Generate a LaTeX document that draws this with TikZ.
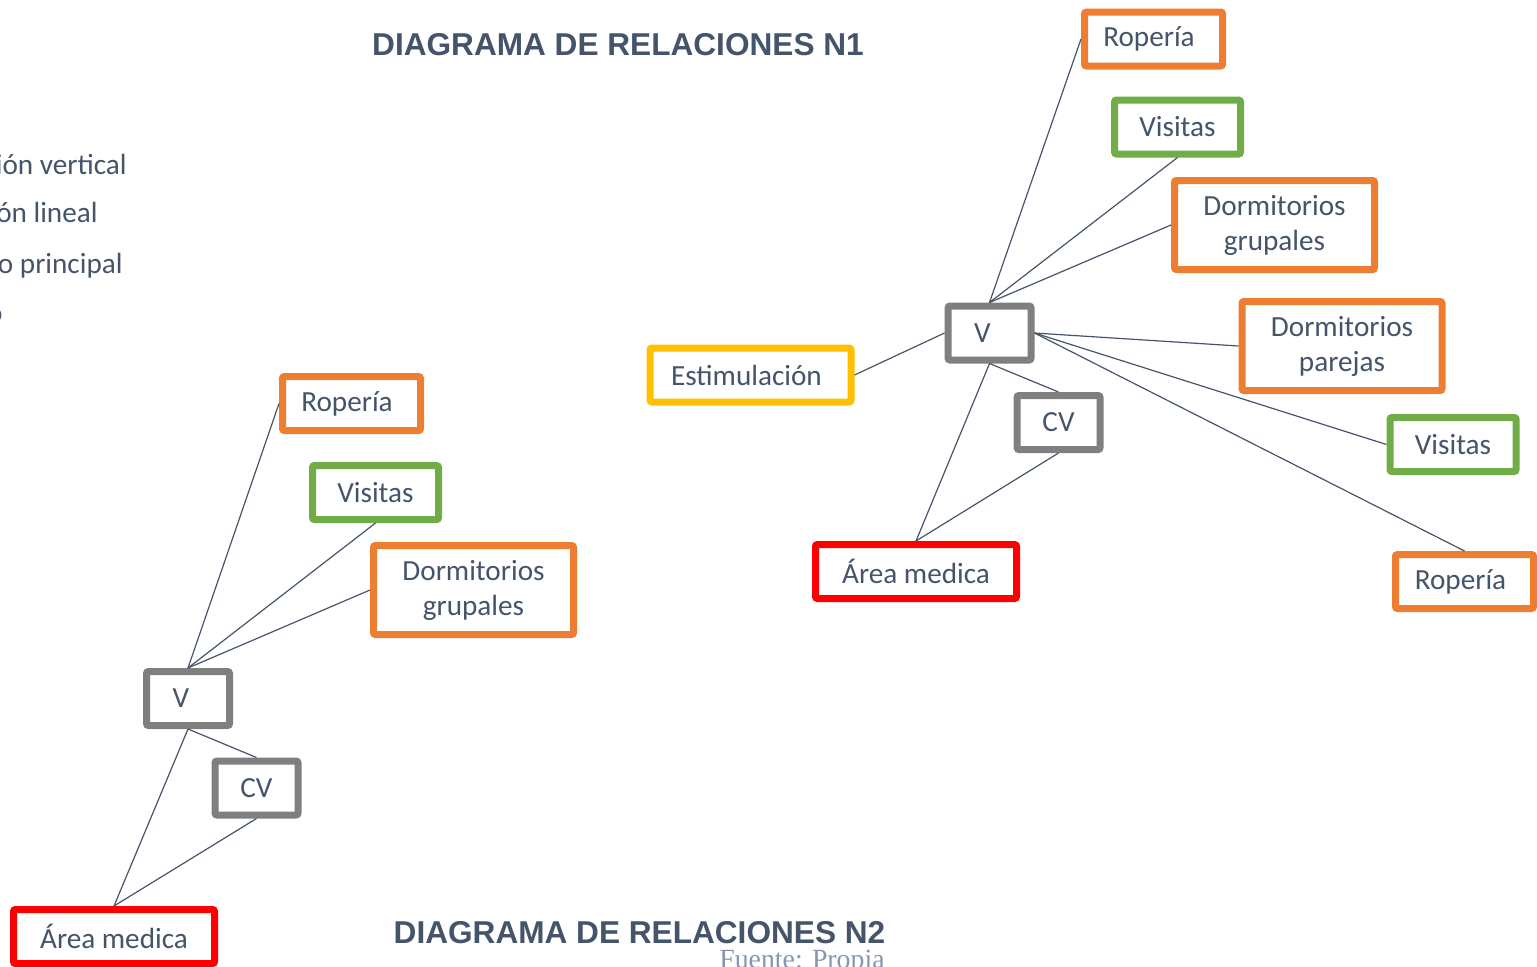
\documentclass[tikz,border=0pt]{standalone}
\usepackage{fontspec}
\setmainfont{Carlito}
\newfontfamily\titlefont{Liberation Sans}
\newfontfamily\sourcefont{Liberation Serif}
\definecolor{txt}{HTML}{44546A}
\definecolor{orangeb}{HTML}{ED7D31}
\definecolor{greenb}{HTML}{70AD47}
\definecolor{grayb}{HTML}{7F7F7F}
\definecolor{yellowb}{HTML}{FFC000}
\definecolor{redb}{HTML}{FF0000}
\definecolor{src}{HTML}{8497B0}
\begin{document}
\begin{tikzpicture}[x=0.5pt,y=-0.5pt,
  box/.style={draw, line width=3.5pt, rounded corners=1pt, fill=white, inner sep=0pt,
    text=txt, font=\fontsize{14.6}{17.5}\selectfont, align=center, minimum height=27pt},
  ob/.style={box, draw=orangeb},
  gb/.style={box, draw=greenb},
  grb/.style={box, draw=grayb},
  yb/.style={box, draw=yellowb},
  rb/.style={box, draw=redb},
  small/.style={minimum width=69pt},
  vsmall/.style={minimum width=63pt},
  tiny/.style={minimum width=41.5pt},
  wide/.style={minimum width=100.5pt},
  twoline/.style={minimum width=100pt, minimum height=44.5pt},
  link/.style={draw=txt, line width=0.6pt},
  sidetext/.style={text=txt, font=\fontsize{14.6}{17.5}\selectfont, inner sep=0pt, anchor=base east},
  title/.style={text=txt, font=\titlefont\bfseries\fontsize{15.8}{19}\selectfont, inner sep=0pt, anchor=base}
]
\clip (0,0) rectangle (1537,966);
\useasboundingbox (0,0) rectangle (1537,966);

% titles
\node[title] (t1) at (618,55) {DIAGRAMA DE RELACIONES N1};
\node[title] (t2) at (639.5,943) {DIAGRAMA DE RELACIONES N2};
\node[text=src, font=\sourcefont\fontsize{13.9}{16}\selectfont, inner sep=0pt, anchor=base east] (src) at (885,968) {Fuente: Propia};

% cut-off side text
\node[sidetext] (s1) at (127,174) {ión vertical};
\node[sidetext] (s2) at (98,222) {ón lineal};
\node[sidetext] (s3) at (123,273) {o principal};
\node[sidetext] (s4) at (3,322) {o};

% ---------- diagram 1 (top right) ----------
\node[ob, small] (rop1) at (1153.5,39) {Ropería\hspace{4.5pt}};
\node[gb, vsmall] (vis1) at (1177.5,127) {Visitas};
\node[ob, twoline] (dg1) at (1274.5,225) {Dormitorios\\grupales};
\node[grb, tiny] (v1) at (989.5,333) {V\hspace{7pt}};
\node[yb, wide] (est) at (750.5,375) {Estimulación\hspace{4pt}};
\node[grb, tiny] (cv1) at (1058.5,422.5) {CV};
\node[ob, twoline] (dp) at (1342,346) {Dormitorios\\parejas};
\node[gb, vsmall] (vis2) at (1453,444.5) {Visitas};
\node[rb, wide] (am1) at (916,571.5) {Área medica};
\node[ob, small] (rop2) at (1464.5,581.5) {Ropería\hspace{4pt}};

\draw[link] (v1.north) -- (rop1.west);
\draw[link] (v1.north) -- (vis1.south);
\draw[link] (v1.north) -- (dg1.west);
\draw[link] (v1.west) -- (est.east);
\draw[link] (v1.east) -- (dp.west);
\draw[link] (v1.east) -- (vis2.west);
\draw[link] (v1.east) -- (rop2.north);
\draw[link] (v1.south) -- (cv1.north);
\draw[link] (v1.south) -- (am1.north);
\draw[link] (cv1.south) -- (am1.north);

% ---------- diagram 2 (bottom left) ----------
\node[ob, small] (rop3) at (351.5,403.5) {Ropería\hspace{4.5pt}};
\node[gb, vsmall] (vis3) at (375.5,492.5) {Visitas};
\node[ob, twoline] (dg3) at (473.5,590) {Dormitorios\\grupales};
\node[grb, tiny] (v3) at (188,698.5) {V\hspace{7pt}};
\node[grb, tiny] (cv3) at (256.5,788) {CV};
\node[rb, wide] (am3) at (114,936.5) {Área medica};

\draw[link] (v3.north) -- (rop3.west);
\draw[link] (v3.north) -- (vis3.south);
\draw[link] (v3.north) -- (dg3.west);
\draw[link] (v3.south) -- (cv3.north);
\draw[link] (v3.south) -- (am3.north);
\draw[link] (cv3.south) -- (am3.north);
\end{tikzpicture}
\end{document}
